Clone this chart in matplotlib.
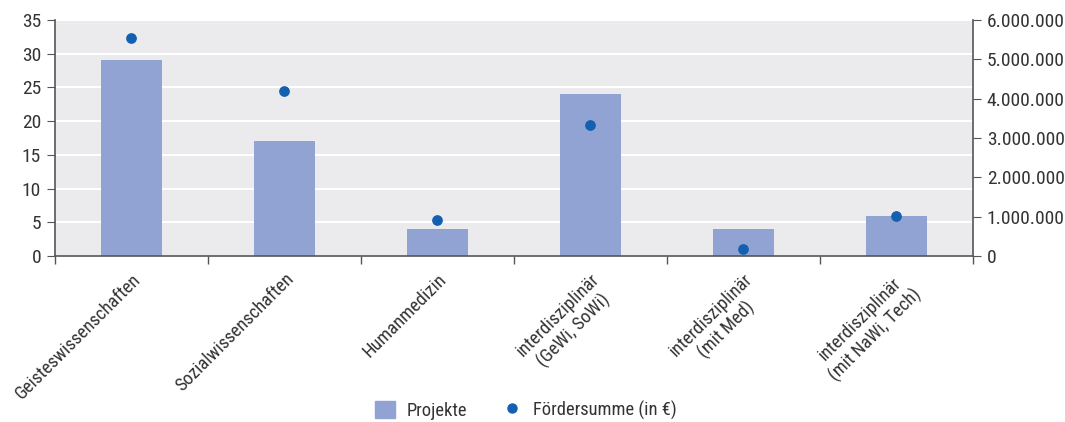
import numpy as np
import matplotlib.pyplot as plt
from matplotlib.lines import Line2D
from matplotlib.patches import Patch

# ===== Daten =====
kategorien = ["Geisteswissenschaften", "Sozialwissenschaften", "Humanmedizin",
              "interdisziplinär\n(GeWi, SoWi)", "interdisziplinär\n(mit Med)",
              "interdisziplinär\n(mit NaWi, Tech)"]
projekte = [29, 17, 4, 24, 4, 6]
foerdersumme = [5540000, 4190000, 910000, 3330000, 170000, 1010000]

left_ticks = [0, 5, 10, 15, 20, 25, 30, 35]
right_ticks = [0, 1000000, 2000000, 3000000, 4000000, 5000000, 6000000]
right_labels = ["0", "1.000.000", "2.000.000", "3.000.000", "4.000.000",
                "5.000.000", "6.000.000"]

# ===== Stil =====
plt.rcParams['font.family'] = ['Roboto Condensed', 'DejaVu Sans']
bar_color = '#91a3d3'
dot_color = '#1460b0'
bg_color = '#ebebed'
axis_color = '#555555'
text_color = '#333333'

fig = plt.figure(figsize=(10.65, 4.22), dpi=100)
ax = fig.add_axes([0.0516, 0.393, 0.862, 0.5596])
ax.set_facecolor(bg_color)

x = np.arange(len(kategorien))
ax.bar(x, projekte, width=0.4, color=bar_color, zorder=2)
ax.set_xlim(-0.5, len(kategorien) - 0.5)
ax.set_ylim(0, 35)
ax.set_yticks(left_ticks)
ax.grid(axis='y', color='white', linewidth=1.5, zorder=1)
ax.set_axisbelow(True)

# x-Ticks zwischen den Kategorien, Labels in der Mitte
ax.set_xticks(np.arange(-0.5, len(kategorien), 1.0))
ax.set_xticklabels([])
ax.set_xticks(x, minor=True)
ax.set_xticklabels(kategorien, minor=True, rotation=45, ha='right', va='top',
                   rotation_mode='anchor', multialignment='center',
                   fontsize=13.3, color=text_color)
ax.tick_params(axis='x', which='minor', length=0, pad=10)
ax.tick_params(axis='x', which='major', length=6, color=axis_color, width=1)
ax.tick_params(axis='y', length=6, color=axis_color, labelsize=14,
               labelcolor=text_color, pad=4)

for s in ['top', 'right']:
    ax.spines[s].set_visible(False)
for s in ['left', 'bottom']:
    ax.spines[s].set_color(axis_color)
    ax.spines[s].set_linewidth(1.2)

ax2 = ax.twinx()
ax2.scatter(x, foerdersumme, s=45, color=dot_color, zorder=3)
ax2.set_ylim(0, 6000000)
ax2.set_yticks(right_ticks)
ax2.set_yticklabels(right_labels)
ax2.tick_params(axis='y', length=6, color=axis_color, labelsize=14,
                labelcolor=text_color, pad=4)
for s in ['top', 'left', 'bottom']:
    ax2.spines[s].set_visible(False)
ax2.spines['right'].set_color(axis_color)
ax2.spines['right'].set_linewidth(1.2)

# ===== Legende =====
handles = [Patch(color=bar_color, label='Projekte'),
           Line2D([], [], marker='o', linestyle='', color=dot_color,
                  markersize=6.5, label='Fördersumme (in €)')]
fig.legend(handles=handles, loc='lower center', bbox_to_anchor=(0.494, -0.035),
           ncol=2, frameon=False, fontsize=13.3, columnspacing=1.9,
           handlelength=1.1, handleheight=1.1, handletextpad=0.6,
           labelcolor=text_color)

fig.savefig('out.png', dpi=100)
